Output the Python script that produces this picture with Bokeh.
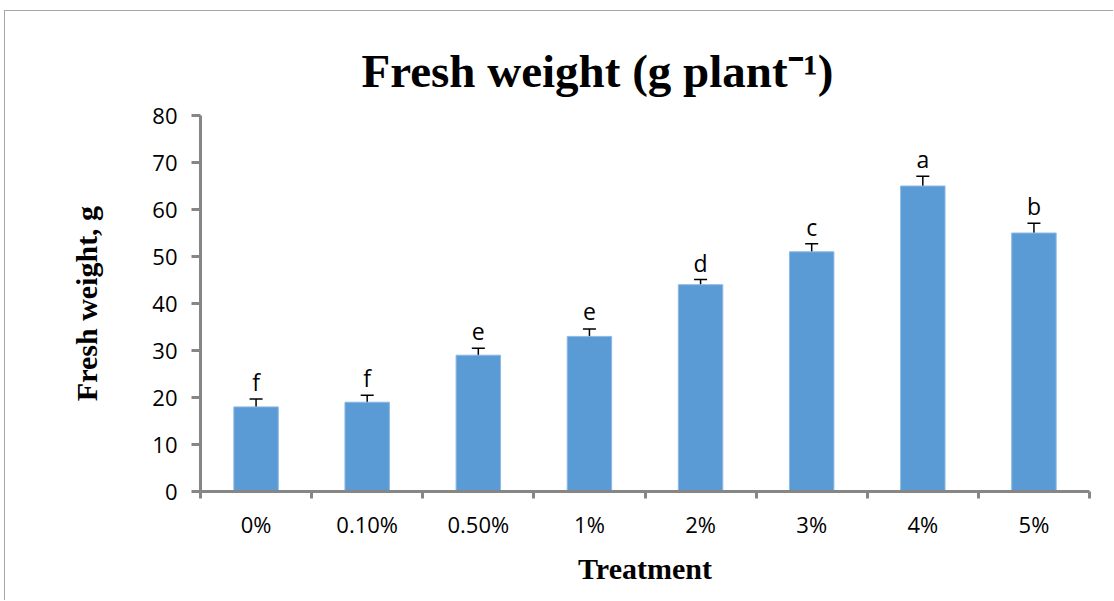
from bokeh.plotting import figure
from bokeh.models import ColumnDataSource, FixedTicker, Whisker, TeeHead, Range1d
from bokeh.core.properties import value
from bokeh.embed import file_html
from bokeh.resources import INLINE

treatments = ["0%", "0.10%", "0.50%", "1%", "2%", "3%", "4%", "5%"]
fresh_weight = [18, 19, 29, 33, 44, 51, 65, 55]
std_err = [1.7, 1.5, 1.5, 1.6, 1.1, 1.7, 2.1, 2.1]
letters = ["f", "f", "e", "e", "d", "c", "a", "b"]
y_ticks = [0, 10, 20, 30, 40, 50, 60, 70, 80]

n = len(treatments)
pos = [i + 0.5 for i in range(n)]
boundaries = [float(i) for i in range(n + 1)]
upper = [v + e for v, e in zip(fresh_weight, std_err)]
lower = [v - e for v, e in zip(fresh_weight, std_err)]

src = ColumnDataSource(dict(x=pos, top=fresh_weight, upper=upper, lower=lower, letter=letters))

AXIS_GREY = "#868686"

p = figure(width=1109, height=590, x_range=Range1d(0, n), y_range=Range1d(0, 80),
           output_backend="svg", toolbar_location=None,
           min_border_left=195, min_border_right=25, min_border_top=104, min_border_bottom=110)
p.margin = (10, 0, 0, 4)
p.styles = {"border-top": "1px solid #a6a6a6", "border-left": "1px solid #a6a6a6"}
p.outline_line_color = None
p.xgrid.visible = False
p.ygrid.visible = False
p.background_fill_color = "white"
p.border_fill_color = "white"

# title
p.title.text = "Fresh weight (g plant\u207b\u00b9)"
p.title.text_font = "Liberation Serif"
p.title.text_font_style = "bold"
p.title.text_font_size = "47px"
p.title.text_color = "black"
p.title.align = "left"
p.title.offset = 161
p.title.standoff = 37

p.vbar(x="x", top="top", bottom=0, width=0.4, source=src,
       fill_color="#5B9BD5", line_color="#8DB9E4", line_width=1)

tee_u = TeeHead(size=13, line_color="black", line_width=1.5)
tee_l = TeeHead(size=13, line_color="black", line_width=1.5)
p.add_layout(Whisker(base="x", upper="upper", lower="lower", source=src,
                     line_color="black", line_width=1.5,
                     upper_head=tee_u, lower_head=tee_l))

p.text(x="x", y="upper", text="letter", source=src, text_font=value("Open Sans"),
       text_font_size="23px", text_align="center", text_baseline="middle",
       y_offset=-17, text_color="black")

# x axis
xa = p.xaxis[0]
xa.ticker = FixedTicker(ticks=pos, minor_ticks=boundaries)
xa.major_label_overrides = {float(x): t for x, t in zip(pos, treatments)}
xa.major_tick_out = 0
xa.major_tick_in = 0
xa.minor_tick_out = 7
xa.minor_tick_in = 0
xa.minor_tick_line_color = AXIS_GREY
xa.minor_tick_line_width = 3
xa.axis_label = "Treatment"
xa.axis_label_standoff = 10
xa.major_label_standoff = 10

# y axis
ya = p.yaxis[0]
ya.ticker = FixedTicker(ticks=y_ticks, minor_ticks=[])
ya.major_tick_out = 9
ya.major_tick_in = 0
ya.minor_tick_out = 0
ya.minor_tick_in = 0
ya.axis_label = "Fresh weight, g"
ya.axis_label_standoff = 46
ya.major_label_standoff = 14

for ax in (xa, ya):
    ax.axis_line_color = AXIS_GREY
    ax.axis_line_width = 3
    ax.major_tick_line_color = AXIS_GREY
    ax.major_tick_line_width = 3
    ax.major_label_text_font = "Open Sans"
    ax.major_label_text_font_size = "22px"
    ax.major_label_text_color = "black"
    ax.axis_label_text_font = "Liberation Serif"
    ax.axis_label_text_font_style = "bold"
    ax.axis_label_text_font_size = "30px"
    ax.axis_label_text_color = "black"

open("out.html", "w").write(file_html(p, INLINE))
